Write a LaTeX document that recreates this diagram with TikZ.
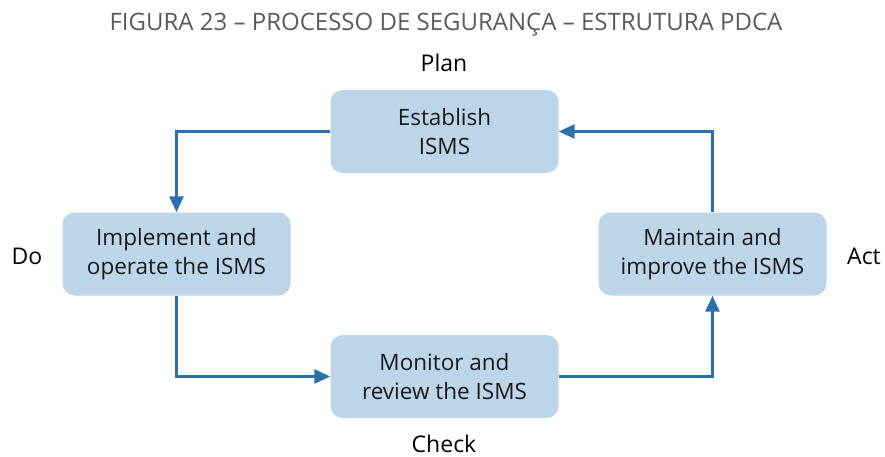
\documentclass[tikz,border=0pt]{standalone}
\usepackage{fontspec}
\setmainfont{Open Sans}
\usetikzlibrary{arrows.meta}
\definecolor{boxfill}{HTML}{BDD5E8}
\definecolor{arrowblue}{HTML}{2A71B0}
\definecolor{titlegray}{HTML}{5A5A5A}
\definecolor{txt}{HTML}{1A1A1A}
\begin{document}
\begin{tikzpicture}[x=1pt,y=-1pt,
  stagebox/.style={fill=boxfill, rounded corners=12pt, minimum width=228pt, minimum height=83pt,
    align=center, inner sep=0pt, text=txt, font=\fontsize{22.5}{28.5}\selectfont},
  phase/.style={text=black, font=\fontsize{23}{26}\selectfont, inner sep=0pt},
  flow/.style={draw=arrowblue, line width=2.8pt, -{Triangle[length=16pt,width=14pt]}}]
\useasboundingbox (0,0) rectangle (885,457);
\node[text=titlegray, font=\fontsize{24}{28}\selectfont, inner sep=0pt] (title) at (446,25) {FIGURA 23 – PROCESSO DE SEGURANÇA – ESTRUTURA PDCA};
\node[stagebox] (est) at (444.5,131.5) {Establish\\ISMS};
\node[stagebox] (imp) at (176.5,254) {Implement and\\operate the ISMS};
\node[stagebox] (mai) at (712.5,254) {Maintain and\\improve the ISMS};
\node[stagebox] (mon) at (444.5,376.5) {Monitor and\\review the ISMS};
\node[phase] (plan) at (444,63) {Plan};
\node[phase] (do) at (27,256) {Do};
\node[phase] (act) at (864,256) {Act};
\node[phase] (check) at (444,444) {Check};
\draw[flow] (est.west) -| (imp.north);
\draw[flow] (imp.south) |- (mon.west);
\draw[flow] (mon.east) -| (mai.south);
\draw[flow] (mai.north) |- (est.east);
\end{tikzpicture}
\end{document}
